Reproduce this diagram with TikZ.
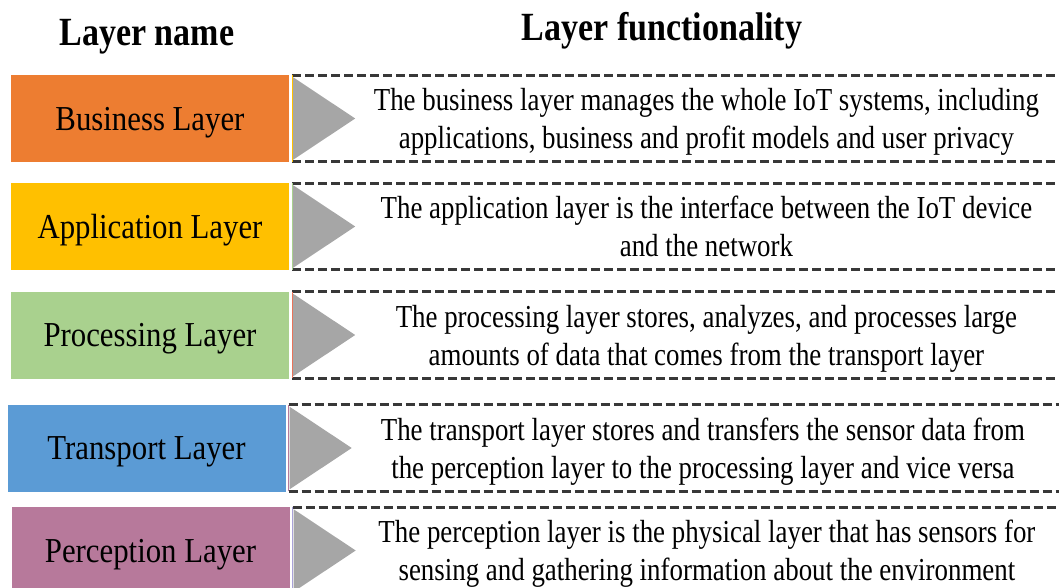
\documentclass[tikz,border=0pt]{standalone}
\usepackage{fontspec}
\setmainfont{Liberation Serif}
\newfontfamily\namefont[FakeStretch=0.88]{Liberation Serif}
\newfontfamily\descfont[FakeStretch=0.84]{Liberation Serif}
\newfontfamily\headfont[FakeStretch=0.85]{Liberation Serif}
\usetikzlibrary{positioning,calc}

\definecolor{businesscol}{HTML}{ED7D31}
\definecolor{applicationcol}{HTML}{FFC000}
\definecolor{processingcol}{HTML}{A9D18E}
\definecolor{transportcol}{HTML}{5B9BD5}
\definecolor{perceptioncol}{HTML}{B7799B}
\definecolor{redline}{HTML}{E8735A}
\definecolor{lilacline}{HTML}{A9A2D8}
\definecolor{dashgray}{HTML}{383838}
\definecolor{pointergray}{HTML}{A6A6A6}

\begin{document}
\begin{tikzpicture}[
    x=1pt, y=-1pt,
    node distance=3pt,
    heading/.style={font=\headfont\bfseries\fontsize{40}{44}\selectfont, anchor=base, inner sep=0pt},
    layerbox/.style={rectangle, minimum width=278pt, minimum height=87pt, inner sep=0pt, text depth=0pt, font=\namefont\fontsize{35}{40}\selectfont},
    descframe/.style={rectangle, minimum width=828pt, minimum height=86pt, inner sep=0pt, align=center, text depth=0pt, font=\descfont\fontsize{32}{38}\selectfont},
    dashline/.style={draw=dashgray, line width=3pt, dash pattern=on 9pt off 4pt},
    pointer/.style={fill=pointergray},
    sideline/.style={line width=1.2pt}
]
    \clip (0,0) rectangle (1059,587);

    % Headings
    \node[heading] (namehead) at (147,45) {Layer name};
    \node[heading] (funchead) at (662,40) {Layer functionality};

    % Layer boxes
    \node[layerbox, fill=businesscol] (business) at (150,118.5) {Business Layer};
    \node[layerbox, fill=applicationcol] (application) at (150,226.5) {Application Layer};
    \node[layerbox, fill=processingcol] (processing) at (150,335) {Processing Layer};
    \node[layerbox, fill=transportcol] (transport) at (146.5,448) {Transport Layer};
    \node[layerbox, fill=perceptioncol] (perception) at (150.5,550.5) {Perception Layer};

    % Functionality texts
    \node[descframe, right=of business] (businessdesc) {The business layer manages the whole IoT systems, including\\applications, business and profit models and user privacy};
    \node[descframe, right=of application] (applicationdesc) {The application layer is the interface between the IoT device\\and the network};
    \node[descframe, right=of processing] (processingdesc) {The processing layer stores, analyzes, and processes large\\amounts of data that comes from the transport layer};
    \node[descframe, right=of transport] (transportdesc) {The transport layer stores and transfers the sensor data from\\the perception layer to the processing layer and vice versa};
    \node[descframe, right=of perception] (perceptiondesc) {The perception layer is the physical layer that has sensors for\\sensing and gathering information about the environment};

    % Dashed frames
    \draw[dashline] (businessdesc.north west) -- (businessdesc.north east);
    \draw[dashline] (businessdesc.south west) -- (businessdesc.south east);
    \draw[dashline] (applicationdesc.north west) -- (applicationdesc.north east);
    \draw[dashline] (applicationdesc.south west) -- (applicationdesc.south east);
    \draw[dashline] (processingdesc.north west) -- (processingdesc.north east);
    \draw[dashline] (processingdesc.south west) -- (processingdesc.south east);
    \draw[dashline] (transportdesc.north west) -- (transportdesc.north east);
    \draw[dashline] (transportdesc.south west) -- (transportdesc.south east);
    \draw[dashline] (perceptiondesc.north west) -- (perceptiondesc.north east);
    \draw[dashline] (perceptiondesc.south west) -- (perceptiondesc.south east);

    % Pointers
    \fill[pointer] ($(businessdesc.north west)+(1,2)$) -- ($(businessdesc.west)+(63,0)$) -- ($(businessdesc.south west)+(1,-2)$) -- cycle;
    \fill[pointer] ($(applicationdesc.north west)+(1,2)$) -- ($(applicationdesc.west)+(63,0)$) -- ($(applicationdesc.south west)+(1,-2)$) -- cycle;
    \fill[pointer] ($(processingdesc.north west)+(1,2)$) -- ($(processingdesc.west)+(63,0)$) -- ($(processingdesc.south west)+(1,-2)$) -- cycle;
    \fill[pointer] ($(transportdesc.north west)+(1,2)$) -- ($(transportdesc.west)+(63,0)$) -- ($(transportdesc.south west)+(1,-2)$) -- cycle;
    \fill[pointer] ($(perceptiondesc.north west)+(1,2)$) -- ($(perceptiondesc.west)+(63,0)$) -- ($(perceptiondesc.south west)+(1,-2)$) -- cycle;

    % Thin side lines
    \draw[sideline, applicationcol] (businessdesc.north west) -- (businessdesc.south west);
    \draw[sideline, processingcol] (applicationdesc.north west) -- (applicationdesc.south west);
    \draw[sideline, redline] (processingdesc.north west) -- (processingdesc.south west);
    \draw[sideline, perceptioncol] (transportdesc.north west) -- (transportdesc.south west);
    \draw[sideline, lilacline] (perceptiondesc.north west) -- (perceptiondesc.south west);

\end{tikzpicture}
\end{document}
